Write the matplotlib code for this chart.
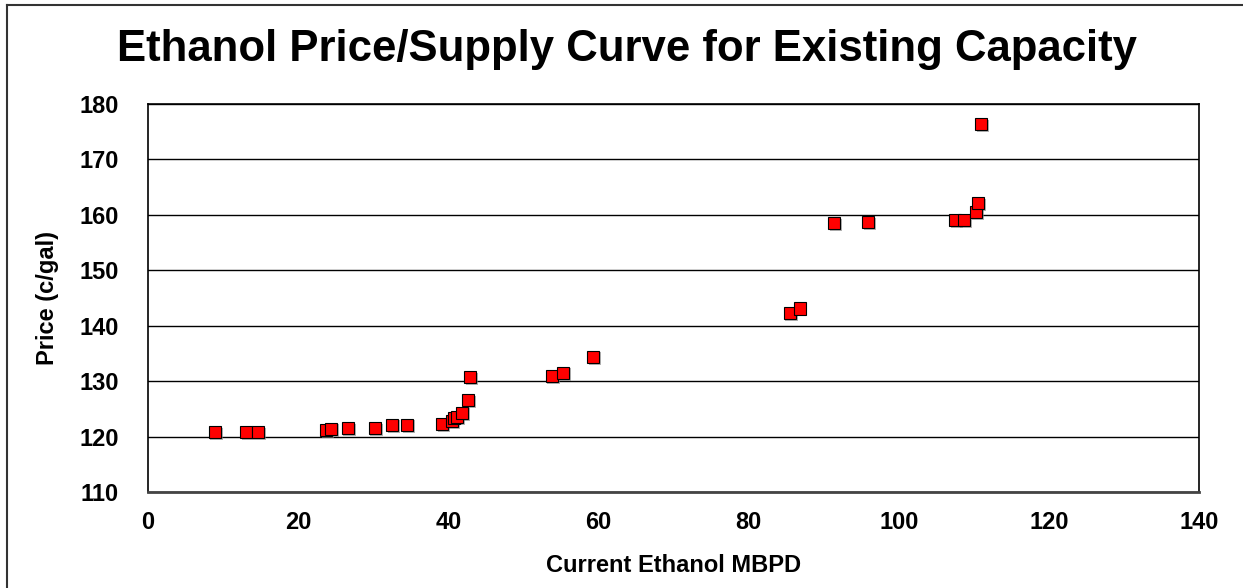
import matplotlib
matplotlib.use('Agg')
from matplotlib import pyplot as plt
from matplotlib import patheffects as pe
from matplotlib.lines import Line2D

# values
mbpd = [8.9, 13.05, 14.65, 23.7, 24.4, 26.6, 30.2, 32.5, 34.5, 39.2,
        40.5, 40.8, 41.2, 41.8, 42.6, 42.9, 53.8, 55.3, 59.3,
        85.5, 86.8, 91.4, 95.9, 107.5, 108.7, 110.3, 110.6, 111.0]
price = [120.8, 120.8, 120.8, 121.2, 121.4, 121.55, 121.55, 122.1, 122.1, 122.3,
         122.8, 123.4, 123.5, 124.3, 126.6, 130.7, 130.9, 131.5, 134.4,
         142.3, 143.1, 158.5, 158.7, 159.1, 159.1, 160.5, 162.1, 176.4]

x_ticks = [0, 20, 40, 60, 80, 100, 120, 140]
y_ticks = [110, 120, 130, 140, 150, 160, 170, 180]

plt.rcParams['font.family'] = ['Liberation Sans', 'DejaVu Sans']

fig = plt.figure(figsize=(12.43, 5.88), dpi=100)
ax = fig.add_axes([0.1191, 0.1633, 0.8455, 0.6598])

ax.plot(mbpd, price, linestyle='none', marker='s', markersize=8.8,
        markerfacecolor='#ff0000', markeredgecolor='#000000', markeredgewidth=0.8,
        path_effects=[pe.SimplePatchShadow(offset=(1.2, -1.2), shadow_rgbFace='#808080', alpha=0.6),
                      pe.Normal()],
        zorder=3)

ax.set_xlim(0, 140)
ax.set_ylim(110, 180)
ax.set_xticks(x_ticks)
ax.set_yticks(y_ticks)
ax.set_xticklabels([str(t) for t in x_ticks], fontsize=17, fontweight='bold')
ax.set_yticklabels([str(t) for t in y_ticks], fontsize=17, fontweight='bold')
ax.tick_params(axis='y', length=0, pad=21)
ax.tick_params(axis='x', length=0, pad=14)
ax.yaxis.grid(True, color='black', linewidth=1)
ax.set_axisbelow(True)
for s in ax.spines.values():
    s.set_color('black')
    s.set_linewidth(1.2)
ax.spines['bottom'].set_linewidth(2)
ax.spines['bottom'].set_color('#444444')

ax.set_xlabel('Current Ethanol MBPD', fontsize=17, fontweight='bold', labelpad=14)
ax.set_ylabel('Price (c/gal)', fontsize=17, fontweight='bold', labelpad=15)

fig.text(0.5045, 0.915, 'Ethanol Price/Supply Curve for Existing Capacity',
         ha='center', va='center', fontsize=31.5, fontweight='bold')

# outer frame (extends past the right and bottom edges)
fig.add_artist(Line2D([7 / 1243, 1.0], [1 - 5 / 588, 1 - 5 / 588], color='#333333', linewidth=1.5))
fig.add_artist(Line2D([7 / 1243, 7 / 1243], [0.0, 1 - 5 / 588], color='#333333', linewidth=1.5))

fig.savefig('out.png', dpi=100)
